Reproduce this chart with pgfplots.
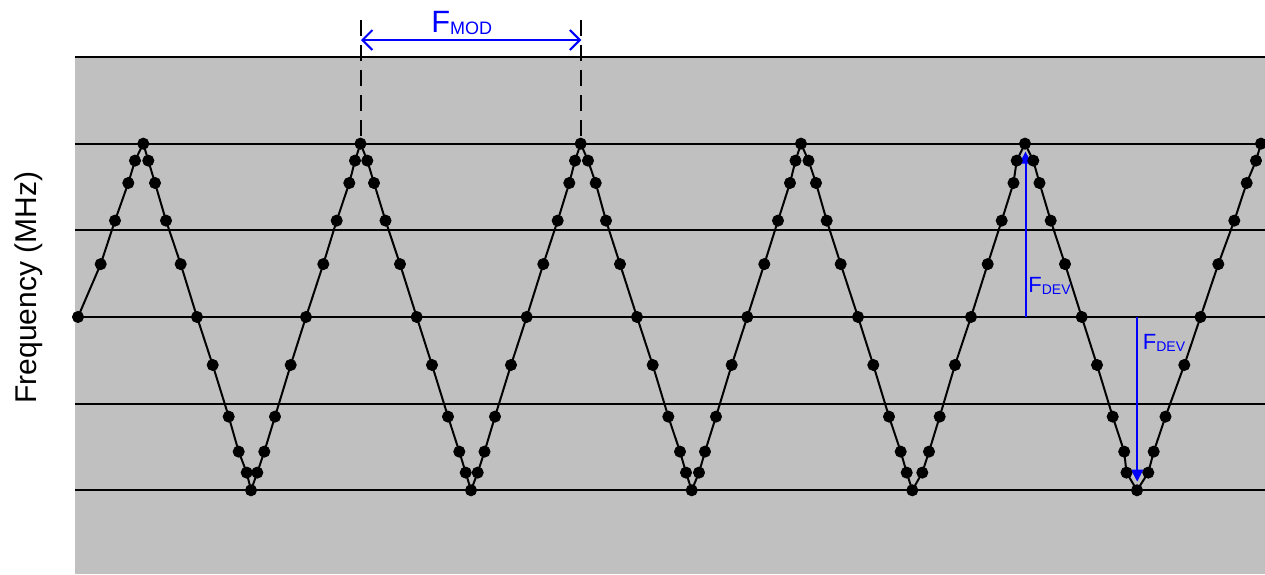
\documentclass[border=0pt]{standalone}
\usepackage{fontspec}
\setmainfont{Liberation Sans}
\usepackage{pgfplots}
\usepackage{pgfplotstable}
\pgfplotsset{compat=1.18}
\usetikzlibrary{arrows.meta}

\definecolor{panelgray}{RGB}{192,192,192}
\definecolor{annblue}{RGB}{0,0,255}

% Triangular frequency sweep: time position vs. normalised deviation
\pgfplotstableread{
x y
78 0
100.7 0.305
115 0.556
128.3 0.773
135 0.902
143.3 1
148.3 0.902
155 0.773
166 0.556
180.7 0.305
197 0
212.7 -0.277
228.7 -0.575
238.7 -0.777
246.7 -0.898
251 -1
257.3 -0.898
264.3 -0.777
275 -0.575
290.7 -0.277
306 0
323.3 0.305
336.7 0.556
349.3 0.773
355 0.902
360.5 1
367.3 0.902
374 0.773
385.5 0.556
400 0.305
416.7 0
432 -0.277
448 -0.575
459.3 -0.777
465.7 -0.898
471 -1
477.7 -0.898
484.5 -0.777
495 -0.575
511 -0.277
526.7 0
543.3 0.305
557.7 0.556
569.3 0.773
575 0.902
580.7 1
588 0.902
595.7 0.773
606 0.556
620 0.305
637 0
652.7 -0.277
668.3 -0.575
680 -0.777
686 -0.898
691.7 -1
699 -0.898
705 -0.777
716 -0.575
731.7 -0.277
747.3 0
764.3 0.305
778 0.556
790 0.773
795.5 0.902
801 1
808.5 0.902
816 0.773
826.7 0.556
840.7 0.305
858 0
873.3 -0.277
889 -0.575
900.7 -0.777
906.7 -0.898
912.3 -1
922.3 -0.898
929 -0.777
939.7 -0.575
955 -0.277
971 0
987.7 0.305
1001.7 0.556
1013.5 0.773
1016.7 0.902
1025 1
1033.3 0.902
1039.5 0.773
1050.7 0.556
1065 0.305
1081.7 0
1097 -0.277
1112.7 -0.575
1124.2 -0.777
1126.5 -0.898
1137 -1
1148.3 -0.898
1153.7 -0.777
1165.5 -0.575
1184.3 -0.277
1200.5 0
1218.3 0.305
1234.3 0.556
1246.7 0.773
1256 0.902
1261 1
}\sweep

\begin{document}
\begin{tikzpicture}
\begin{axis}[
  name=ax,
  scale only axis,
  width=595pt, height=258.5pt,
  xmin=75, xmax=1265,
  ymin=-1.483, ymax=1.5,
  axis line style={draw=none},
  xtick=\empty,
  ytick={-1,-0.5,0,0.5,1,1.5},
  yticklabels={,,,,,},
  major tick length=0pt,
  ymajorgrids,
  grid style={black, line width=0.9pt},
  axis background/.style={fill=panelgray},
  clip=false,
]
% modulation period markers
\draw[black, line width=1pt, dash pattern=on 8pt off 4.5pt] (axis cs:361,1.714) -- (axis cs:361,1);
\draw[black, line width=1pt, dash pattern=on 8pt off 4.5pt] (axis cs:581.3,1.714) -- (axis cs:581.3,1);

\addplot[black, line width=1pt, mark=*, mark size=2.8pt,
  mark options={solid, fill=black, draw=black, line width=0.4pt}]
  table[x=x, y=y] {\sweep};

% F_MOD span
\draw[annblue, line width=1pt,
  {Straight Barb[length=5pt,width=10pt]}-{Straight Barb[length=5pt,width=10pt]}]
  (axis cs:361,1.598) -- (axis cs:581.3,1.598);
\node[anchor=base west, inner sep=0pt, text=annblue] at (axis cs:431,1.639)
  {{\fontsize{15.4}{18}\selectfont F}\raisebox{-1pt}{\fontsize{9}{10}\selectfont MOD}};

% F_DEV arrows
\draw[annblue, line width=1pt, -{Triangle[length=6pt,width=6pt]}]
  (axis cs:1025.5,0) -- (axis cs:1025.5,0.954);
\node[anchor=base west, inner sep=0pt, text=annblue] at (axis cs:1028,0.140)
  {{\fontsize{11}{13}\selectfont F}\raisebox{-1.1pt}{\fontsize{7}{8}\selectfont DEV}};
\draw[annblue, line width=1pt, -{Triangle[length=6pt,width=6pt]}]
  (axis cs:1137.2,0) -- (axis cs:1137.2,-0.950);
\node[anchor=base west, inner sep=0pt, text=annblue] at (axis cs:1142.5,-0.186)
  {{\fontsize{11}{13}\selectfont F}\raisebox{-1.1pt}{\fontsize{7}{8}\selectfont DEV}};

% axis title
\node[rotate=90, anchor=base, inner sep=0pt] at (axis cs:36.7,0.170)
  {\fontsize{15}{18}\selectfont Frequency (MHz)};
\end{axis}
\pgfresetboundingbox
\path ([xshift=-37.5pt]ax.south west) rectangle ([yshift=28.5pt]ax.north east);
\end{tikzpicture}
\end{document}
